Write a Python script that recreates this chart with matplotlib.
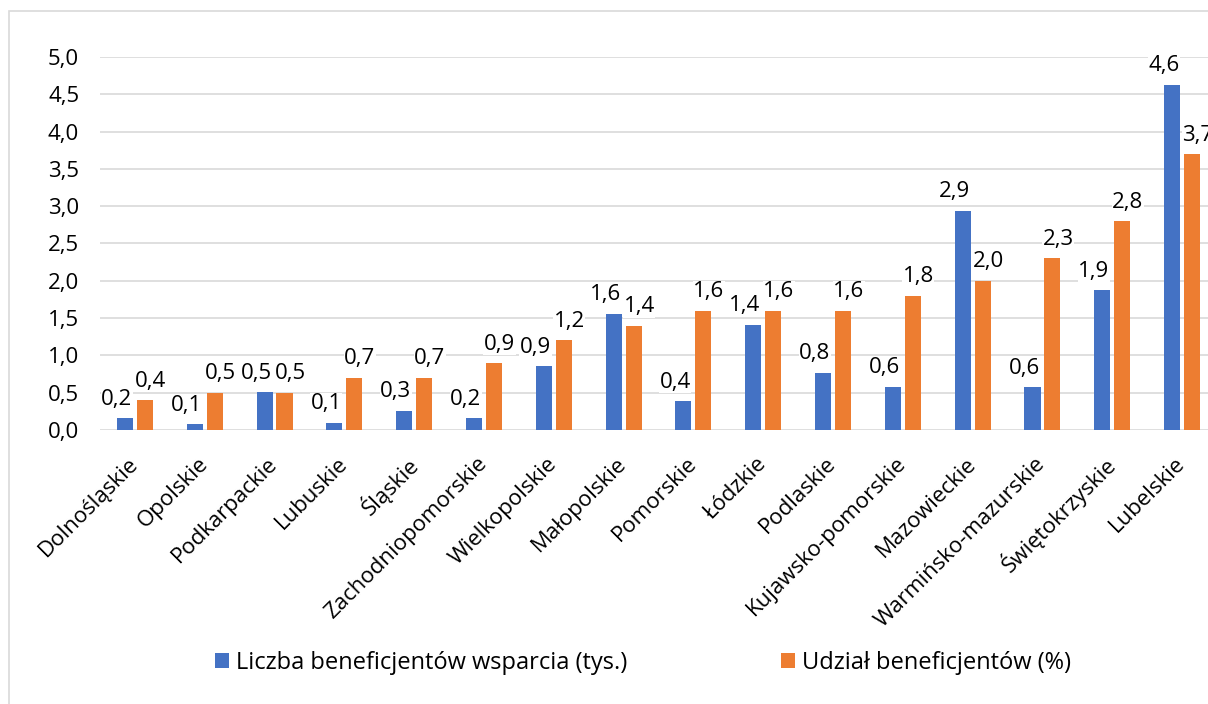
import numpy as np
import matplotlib
matplotlib.use('Agg')
import matplotlib.pyplot as plt
from matplotlib.patches import Rectangle

regions = ['Dolnośląskie', 'Opolskie', 'Podkarpackie', 'Lubuskie', 'Śląskie',
           'Zachodniopomorskie', 'Wielkopolskie', 'Małopolskie', 'Pomorskie',
           'Łódzkie', 'Podlaskie', 'Kujawsko-pomorskie', 'Mazowieckie',
           'Warmińsko-mazurskie', 'Świętokrzyskie', 'Lubelskie']
liczba = [0.16, 0.076, 0.51, 0.098, 0.26, 0.157, 0.855, 1.56, 0.385,
          1.41, 0.77, 0.58, 2.94, 0.57, 1.87, 4.63]
udzial = [0.4, 0.5, 0.5, 0.7, 0.7, 0.9, 1.2, 1.4, 1.6, 1.6, 1.6, 1.8,
          2.0, 2.3, 2.8, 3.7]
series_names = ['Liczba beneficjentów wsparcia (tys.)', 'Udział beneficjentów (%)']

blue = '#4472C4'
orange = '#ED7D31'
grid_c = '#D9D9D9'
fs = 16

plt.rcParams['font.family'] = ['Open Sans', 'DejaVu Sans']

fig = plt.figure(figsize=(12.08, 7.04), dpi=100)
fig.patches.append(Rectangle((9/1208, -0.1), 1.2, 1 - 11/704 + 0.1, transform=fig.transFigure,
                             facecolor='none', edgecolor=grid_c, linewidth=1.2))
ax = fig.add_axes([100/1208, 1 - 430/704, 1117/1208, 373/704])

x = np.arange(len(regions))
w = 0.23
off = 0.143
b1 = ax.bar(x - off, liczba, w, color=blue, label=series_names[0], zorder=2)
b2 = ax.bar(x + off, udzial, w, color=orange, label=series_names[1], zorder=2)

def fmt(v):
    return f'{v:.1f}'.replace('.', ',')

# etykiety rozsuniete na boki jak w Excelu
for xi, v in zip(x, liczba):
    ax.annotate(fmt(v), (xi - off, v), xytext=(-6, 6), textcoords='offset points',
                ha='center', va='bottom', fontsize=fs, color='#000000', zorder=3,
                bbox=dict(facecolor='white', edgecolor='none', pad=0.3))
for xi, v in zip(x, udzial):
    ax.annotate(fmt(v), (xi + off, v), xytext=(4, 6), textcoords='offset points',
                ha='center', va='bottom', fontsize=fs, color='#000000', zorder=3,
                bbox=dict(facecolor='white', edgecolor='none', pad=0.3))

ax.set_xlim(-0.5, len(regions) - 0.5)
ax.set_ylim(0, 5)
yt = np.arange(0, 5.01, 0.5)
ax.set_yticks(yt)
ax.set_yticklabels([fmt(t) for t in yt], fontsize=fs)
ax.set_xticks(x)
ax.set_xticklabels(regions, rotation=45, ha='right', va='center', rotation_mode='anchor', fontsize=fs)
ax.tick_params(axis='both', length=0)
ax.tick_params(axis='y', pad=15)
ax.tick_params(axis='x', pad=22)
ax.yaxis.grid(True, color=grid_c, linewidth=1.2, zorder=0)
ax.set_axisbelow(True)
for s in ax.spines.values():
    s.set_visible(False)

fig.legend(handles=[b1, b2], loc='center', bbox_to_anchor=(643/1208, 1 - 663/704), ncol=2,
           frameon=False, fontsize=17, handlelength=0.6, handleheight=0.6,
           handletextpad=0.3, columnspacing=6.5)

fig.savefig('out.png', dpi=100)
